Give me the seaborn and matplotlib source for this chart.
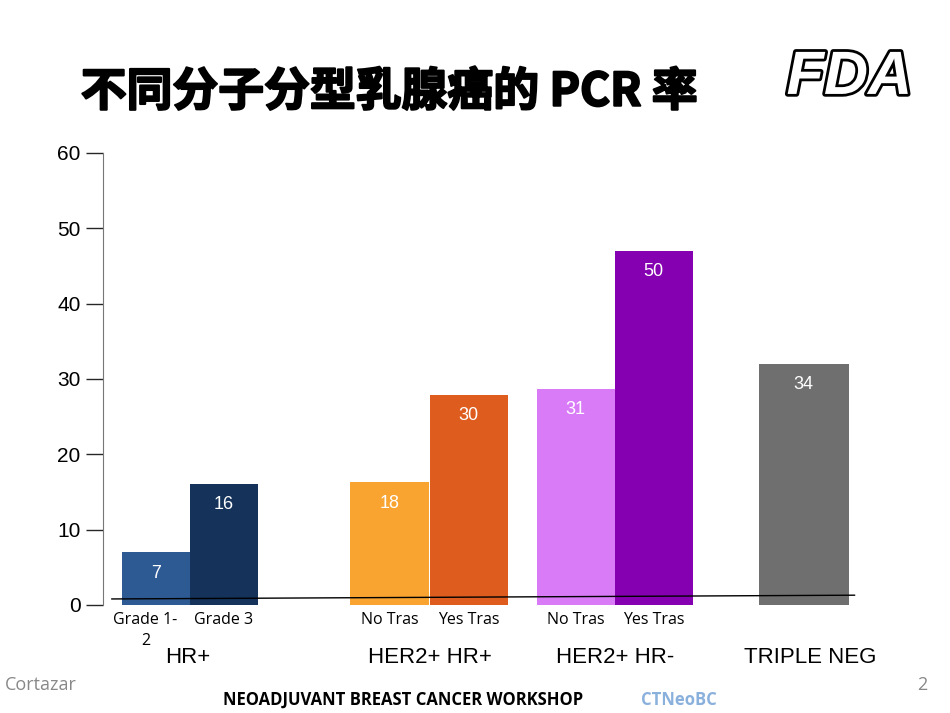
import numpy as np
import seaborn as sns
from matplotlib import pyplot as plt
import matplotlib.patheffects as pe

sns.set_style("white")
plt.rcParams['font.family'] = ['Liberation Sans', 'Noto Sans CJK SC', 'DejaVu Sans']
plt.rcParams['text.color'] = 'black'

# bar heights as drawn, and the printed labels
heights = [7, 16.1, 16.3, 27.9, 28.7, 47, 32]
value_labels = ["7", "16", "18", "30", "31", "50", "34"]
sub_labels = ["Grade 1-\n2", "Grade 3", "No Tras", "Yes Tras", "No Tras", "Yes Tras", ""]
groups = ["HR+", "HER2+ HR+", "HER2+ HR-", "TRIPLE NEG"]
colors = ["#2E5A94", "#14325A", "#F9A431", "#DE5D1E", "#D97BF7", "#8500B0", "#6F6F6F"]

# layout (pixel-like units along the axis)
xs = [53, 121, 287, 366, 473, 551, 701]
widths = [68, 68, 79, 78, 78, 78, 90]
group_x = [85, 327, 512, 707]

fig = plt.figure(figsize=(9.5, 7.13), dpi=100)
ax = fig.add_axes([0.108, 0.1515, 0.797, 0.634])
ax.bar(xs, heights, width=widths, color=colors, linewidth=0)
for x, h, lab in zip(xs, heights, value_labels):
    ax.text(x, h - 2.8, lab, color="white", ha="center", va="center", fontsize=13)
for x, lab in zip(xs, sub_labels):
    ax.text(x - (10 if lab.startswith("Grade 1") else 0), -0.9, lab, ha="center", va="top",
            fontsize=11.5, family=["Open Sans"], linespacing=1.4)
for x, g in zip(group_x, groups):
    ax.text(x, -5.6, g, ha="center", va="top", fontsize=16)
ax.plot([9, 752], [0.8, 1.3], color="black", lw=1, clip_on=False)

ax.set_xlim(0, 757)
ax.set_ylim(0, 60)
ax.set_yticks(range(0, 61, 10))
ax.tick_params(axis="y", direction="out", length=12, width=1, labelsize=15, pad=4, left=True,
               labelcolor="black")
ax.set_xticks([])
for s in ["top", "right", "bottom"]:
    ax.spines[s].set_visible(False)
ax.spines["left"].set_color("#777777")

fig.text(0.085, 0.87, "不同分子分型乳腺癌的 PCR 率", fontsize=33, fontweight="heavy",
         family=["Noto Sans CJK SC"], va="center", color="black",
         path_effects=[pe.withStroke(linewidth=1.5, foreground="black")])
fig.text(0.828, 0.89, "FDA", fontsize=44, fontweight="bold", style="italic", va="center",
         color="white", path_effects=[pe.withStroke(linewidth=4, foreground="black")])
fig.text(0.005, 0.032, "Cortazar", fontsize=13, color="#888888", family=["Open Sans"])
fig.text(0.965, 0.032, "2", fontsize=13, color="#888888", family=["Open Sans"])
fig.text(0.235, 0.011, "NEOADJUVANT BREAST CANCER WORKSHOP", fontsize=12, fontweight="bold",
         family=["Open Sans"], color="black")
fig.text(0.675, 0.011, "CTNeoBC", fontsize=12, fontweight="bold", color="#8AB0DC", family=["Open Sans"])

fig.savefig("out.png", dpi=100)
